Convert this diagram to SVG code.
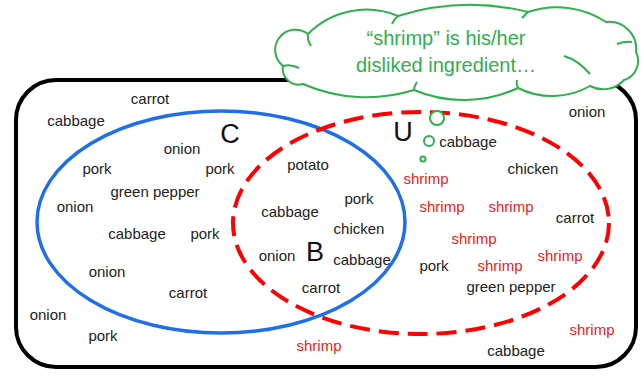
<svg xmlns="http://www.w3.org/2000/svg" width="643" height="376" viewBox="0 0 643 376">
<style>
.t{font-family:"Liberation Sans",Arial,sans-serif;font-size:15px;fill:#222;text-anchor:middle}
.r{fill:#ee2020}
.big{font-family:"Liberation Sans",Arial,sans-serif;font-size:27px;fill:#111;text-anchor:middle}
.cl{font-family:"Liberation Sans",Arial,sans-serif;font-size:20px;fill:#2eb04c;text-anchor:middle}
.gs{fill:#fff;stroke:#2eb04c;stroke-width:2}
.curl{fill:none;stroke:#2eb04c;stroke-width:2}
</style>
<rect width="643" height="376" fill="#fff"/>
<g id="universe">
<rect x="16" y="80" width="620" height="287" rx="40" ry="40" fill="none" stroke="#000" stroke-width="4"/>
<text class="big" x="403" y="141">U</text>
</g>
<g id="setC">
<ellipse cx="221" cy="222" rx="184" ry="111" fill="none" stroke="#1e6fe8" stroke-width="3.5"/>
<text class="big" x="230" y="143">C</text>
</g>
<g id="setB">
<ellipse cx="421" cy="223" rx="188" ry="111" fill="none" stroke="#ff0000" stroke-width="4" stroke-dasharray="20 9"/>
<text class="big" x="315" y="261">B</text>
</g>
<g id="connectors"></g>
<g id="items">
<text class="t" x="150" y="104">carrot</text>
<text class="t" x="76" y="126">cabbage</text>
<text class="t" x="182" y="154">onion</text>
<text class="t" x="97" y="174">pork</text>
<text class="t" x="220" y="174">pork</text>
<text class="t" x="155" y="197">green pepper</text>
<text class="t" x="75" y="212">onion</text>
<text class="t" x="137" y="239">cabbage</text>
<text class="t" x="205" y="239">pork</text>
<text class="t" x="107" y="277">onion</text>
<text class="t" x="188" y="298">carrot</text>
<text class="t" x="48" y="320">onion</text>
<text class="t" x="103" y="341">pork</text>
<text class="t" x="308" y="170">potato</text>
<text class="t" x="290" y="217">cabbage</text>
<text class="t" x="359" y="204">pork</text>
<text class="t" x="359" y="234">chicken</text>
<text class="t" x="277" y="261">onion</text>
<text class="t" x="362" y="265">cabbage</text>
<text class="t" x="321" y="293">carrot</text>
<text class="t r" x="319" y="351">shrimp</text>
<text class="t" x="587" y="117">onion</text>
<text class="t" x="468" y="147">cabbage</text>
<text class="t r" x="426" y="184">shrimp</text>
<text class="t" x="533" y="174">chicken</text>
<text class="t r" x="442" y="212">shrimp</text>
<text class="t r" x="511" y="212">shrimp</text>
<text class="t" x="575" y="223">carrot</text>
<text class="t r" x="474" y="244">shrimp</text>
<text class="t r" x="560" y="261">shrimp</text>
<text class="t" x="434" y="271">pork</text>
<text class="t r" x="500" y="271">shrimp</text>
<text class="t" x="511" y="292">green pepper</text>
<text class="t r" x="592" y="335">shrimp</text>
<text class="t" x="516" y="356">cabbage</text>
</g>
<g id="thought">
<path class="gs" d="M303 84 A16 16 0 0 1 283 66 A20 20 0 0 1 308 34 A82 82 0 0 1 398 16 A239 239 0 0 1 528 12 A90 90 0 0 1 606 22 A27 27 0 0 1 636 52 A20 20 0 0 1 624 80 A28 28 0 0 1 590 86 A76 76 0 0 1 518 88 A128 128 0 0 1 414 90 A159 159 0 0 1 303 84 Z"/>
<path class="curl" d="M283 66 q8 -2 16 2 M308 34 q-1 6 3 12 M398 16 q-4 3 -6 8 M528 12 q-3 3 -6 6 M617 44 q8 -3 15 -2 M590 74 q-12 -14 -26 -18 M518 88 q-2 -4 -1 -8 M414 90 q0 -4 3 -8"/>
<text class="cl" x="446" y="45">“shrimp” is his/her</text>
<text class="cl" x="446" y="72">disliked ingredient…</text>
<circle class="gs" cx="437" cy="118" r="7"/>
<circle class="gs" cx="429" cy="141" r="5"/>
<circle class="gs" cx="423" cy="159" r="2.5"/>
</g>
</svg>
